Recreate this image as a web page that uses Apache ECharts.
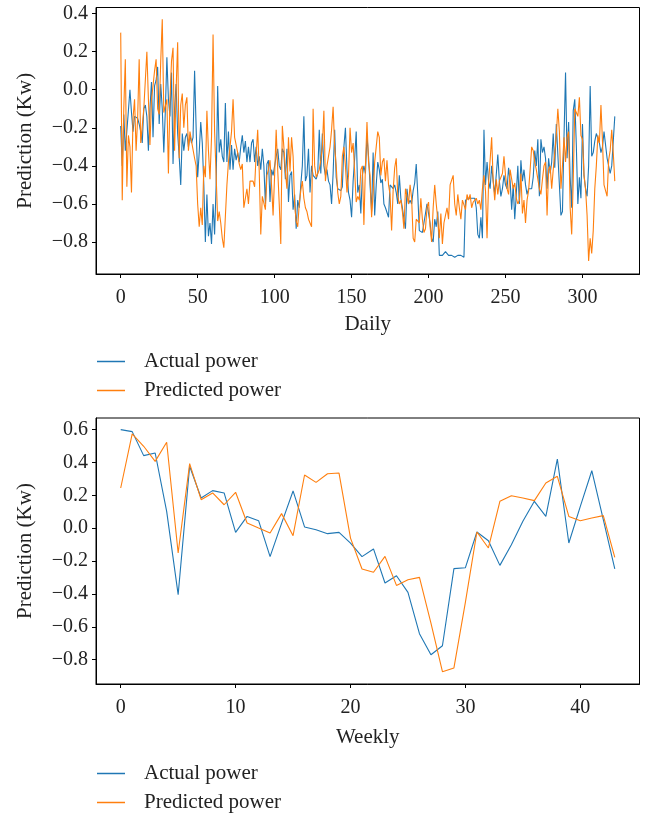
<!DOCTYPE html>
<html>
<head>
<meta charset="utf-8">
<style>
html,body{margin:0;padding:0;background:#fff;}
#chart{width:649px;height:814px;}
</style>
<script src="https://cdn.jsdelivr.net/npm/echarts@6/dist/echarts.min.js"></script>
</head>
<body>
<div id="chart"></div>
<script>
const dailyActual = [
-0.19,-0.40,-0.13,-0.32,-0.32,-0.11,0.00,-0.12,-0.22,-0.14,
-0.14,-0.15,-0.18,-0.22,-0.28,-0.10,-0.08,-0.14,-0.32,-0.10,
0.04,-0.25,0.02,0.05,0.12,-0.18,0.03,-0.10,-0.33,-0.11,
0.17,-0.05,-0.14,0.09,-0.39,-0.10,0.03,-0.23,-0.35,-0.50,
-0.23,-0.32,-0.25,-0.23,-0.30,-0.24,-0.28,-0.25,0.10,-0.20,
-0.46,-0.33,-0.17,-0.28,-0.50,-0.80,-0.55,-0.77,-0.70,-0.81,
-0.60,-0.76,-0.50,0.02,-0.33,-0.26,-0.35,-0.38,-0.07,-0.38,
-0.22,-0.42,-0.29,-0.42,-0.31,-0.37,-0.33,-0.38,-0.30,-0.24,
-0.33,-0.27,-0.38,-0.30,-0.38,-0.28,-0.26,-0.38,-0.30,-0.40,
-0.35,-0.42,-0.31,-0.40,-0.60,-0.39,-0.37,-0.59,-0.42,-0.45,
-0.45,-0.35,-0.31,-0.40,-0.42,-0.31,-0.33,-0.47,-0.31,-0.59,
-0.45,-0.43,-0.63,-0.55,-0.73,-0.58,-0.62,-0.50,-0.40,-0.14,
-0.48,-0.45,-0.31,-0.54,-0.40,-0.45,-0.44,-0.47,-0.44,-0.21,
-0.44,-0.23,-0.40,-0.45,-0.42,-0.48,-0.50,-0.60,-0.44,-0.21,
-0.46,-0.52,-0.51,-0.53,-0.51,-0.30,-0.20,-0.42,-0.54,-0.58,
-0.67,-0.48,-0.36,-0.22,-0.54,-0.50,-0.65,-0.45,-0.40,-0.44,
-0.24,-0.35,-0.50,-0.64,-0.33,-0.66,-0.50,-0.38,-0.42,-0.49,
-0.47,-0.60,-0.62,-0.63,-0.67,-0.50,-0.49,-0.52,-0.50,-0.54,
-0.60,-0.45,-0.57,-0.62,-0.68,-0.73,-0.52,-0.60,-0.58,-0.60,
-0.53,-0.49,-0.39,-0.55,-0.74,-0.75,-0.75,-0.74,-0.65,-0.60,
-0.59,-0.70,-0.78,-0.80,-0.68,-0.72,-0.64,-0.87,-0.87,-0.87,
-0.86,-0.85,-0.84,-0.87,-0.88,-0.87,-0.87,-0.88,-0.87,-0.87,
-0.88,-0.87,-0.87,-0.88,-0.58,-0.57,-0.57,-0.57,-0.57,-0.57,
-0.57,-0.62,-0.76,-0.78,-0.67,-0.78,-0.21,-0.50,-0.38,-0.48,
-0.52,-0.40,-0.48,-0.55,-0.56,-0.34,-0.48,-0.56,-0.52,-0.45,
-0.50,-0.52,-0.41,-0.48,-0.63,-0.50,-0.68,-0.55,-0.40,-0.60,
-0.37,-0.48,-0.42,-0.50,-0.55,-0.52,-0.53,-0.52,-0.46,-0.32,
-0.40,-0.26,-0.56,-0.26,-0.33,-0.30,-0.36,-0.52,-0.36,-0.44,
-0.38,-0.23,-0.41,-0.18,-0.19,-0.50,-0.66,-0.64,-0.25,0.09,
-0.36,-0.17,-0.46,-0.62,-0.11,-0.05,-0.29,-0.60,-0.46,-0.57,
-0.18,-0.45,-0.52,-0.56,-0.40,0.02,-0.35,-0.33,-0.27,-0.23,
-0.22,-0.28,-0.33,-0.30,-0.22,-0.21,-0.36,-0.37,-0.44,-0.40,
-0.40,-0.14
];
const dailyPredicted = [
0.30,-0.58,-0.10,0.16,-0.51,-0.24,-0.30,-0.54,-0.15,-0.05,
-0.32,-0.15,0.16,-0.28,-0.27,-0.10,0.05,0.20,-0.05,-0.29,
-0.05,0.02,0.10,0.16,-0.10,-0.13,0.15,0.37,-0.12,-0.13,
-0.05,-0.44,-0.05,0.15,0.22,-0.32,0.00,0.25,-0.36,-0.08,
-0.02,-0.20,-0.08,-0.04,-0.32,-0.22,-0.27,-0.26,-0.36,-0.40,
-0.60,-0.72,-0.62,-0.71,-0.40,-0.46,-0.11,-0.32,-0.47,-0.25,
0.29,-0.22,-0.45,-0.69,-0.64,-0.70,-0.78,-0.83,-0.83,-0.50,
-0.38,-0.38,-0.22,-0.05,-0.25,-0.29,-0.33,-0.39,-0.42,-0.39,
-0.62,-0.62,-0.52,-0.60,-0.48,-0.48,-0.48,-0.51,-0.34,-0.21,
-0.43,-0.76,-0.56,-0.57,-0.63,-0.45,-0.42,-0.37,-0.50,-0.66,
-0.45,-0.21,-0.42,-0.60,-0.81,-0.19,-0.30,-0.43,-0.52,-0.25,
-0.43,-0.25,-0.35,-0.60,-0.69,-0.72,-0.60,-0.53,-0.48,-0.57,
-0.62,-0.64,-0.68,-0.67,-0.72,-0.10,-0.40,-0.46,-0.44,-0.42,
-0.37,-0.30,-0.11,-0.48,-0.40,-0.35,-0.30,-0.21,-0.09,-0.30,
-0.40,-0.54,-0.60,-0.56,-0.35,-0.30,-0.40,-0.54,-0.45,-0.20,
-0.33,-0.28,-0.43,-0.59,-0.56,-0.58,-0.42,-0.40,-0.71,-0.40,
-0.17,-0.38,-0.45,-0.67,-0.54,-0.38,-0.30,-0.22,-0.25,-0.45,
-0.38,-0.36,-0.48,-0.37,-0.50,-0.55,-0.74,-0.53,-0.41,-0.36,
-0.56,-0.60,-0.58,-0.64,-0.73,-0.52,-0.53,-0.60,-0.50,-0.57,
-0.78,-0.80,-0.68,-0.67,-0.70,-0.57,-0.68,-0.75,-0.73,-0.62,
-0.59,-0.72,-0.80,-0.62,-0.50,-0.60,-0.68,-0.78,-0.65,-0.81,
-0.70,-0.66,-0.62,-0.68,-0.50,-0.49,-0.45,-0.60,-0.66,-0.55,
-0.62,-0.68,-0.58,-0.57,-0.63,-0.55,-0.58,-0.55,-0.62,-0.59,
-0.60,-0.57,-0.60,-0.58,-0.63,-0.52,-0.45,-0.53,-0.78,-0.49,
-0.50,-0.25,-0.48,-0.58,-0.47,-0.55,-0.48,-0.49,-0.44,-0.35,
-0.45,-0.52,-0.55,-0.42,-0.47,-0.52,-0.49,-0.57,-0.60,-0.58,
-0.44,-0.65,-0.58,-0.70,-0.58,-0.53,-0.42,-0.30,-0.32,-0.38,
-0.42,-0.47,-0.52,-0.55,-0.47,-0.40,-0.38,-0.66,-0.42,-0.40,
-0.52,-0.42,-0.41,-0.24,-0.10,-0.22,-0.52,-0.40,-0.25,-0.38,
-0.25,-0.22,-0.62,-0.76,-0.48,-0.10,-0.12,-0.14,-0.04,-0.24,
-0.26,-0.45,-0.52,-0.66,-0.90,-0.78,-0.86,-0.74,-0.52,-0.40,
-0.24,-0.28,-0.08,-0.27,-0.50,-0.53,-0.56,-0.37,-0.32,-0.21,
-0.33,-0.48
];
const weeklyActual = [
0.600,0.588,0.442,0.458,0.103,-0.404,0.377,0.184,0.229,0.215,
-0.025,0.072,0.046,-0.173,0.030,0.227,0.008,-0.009,-0.033,-0.025,
-0.090,-0.173,-0.126,-0.333,-0.289,-0.390,-0.642,-0.770,-0.715,-0.246,
-0.240,-0.023,-0.076,-0.226,-0.100,0.042,0.164,0.072,0.421,-0.090,
0.133,0.350,0.052,-0.248
];
const weeklyPredicted = [
0.245,0.574,0.499,0.407,0.523,-0.151,0.393,0.174,0.215,0.143,
0.219,0.032,0.001,-0.029,0.089,-0.045,0.324,0.279,0.332,0.336,
-0.060,-0.248,-0.268,-0.171,-0.348,-0.313,-0.299,-0.577,-0.873,-0.850,
-0.450,-0.023,-0.120,0.164,0.198,0.184,0.168,0.275,0.316,0.072,
0.046,0.062,0.077,-0.177
];
const dailyXTicks = [0, 50, 100, 150, 200, 250, 300];
const weeklyXTicks = [0, 10, 20, 30, 40];
const dailyYTicks = [-0.8, -0.6, -0.4, -0.2, 0.0, 0.2, 0.4];
const weeklyYTicks = [-0.8, -0.6, -0.4, -0.2, 0.0, 0.2, 0.4, 0.6];
const seriesNames = ['Actual power', 'Predicted power'];
const xNames = ['Daily', 'Weekly'];
const yName = 'Prediction (Kw)';

const BLUE = '#1f77b4', ORANGE = '#ff7f0e';
const FONT = 'Liberation Serif';
const FS = 20;

function pairs(arr){ return arr.map((v,i)=>[i,v]); }
function fmtY(v){ return v.toFixed(1).replace('-', '\u2212'); }
function pad(n){ return (n-1)*0.05; }

function xAxis(idx, n, ticks, name, gap){
  return {
    type:'value', gridIndex: idx, min: -pad(n), max: (n-1)+pad(n),
    name: name, nameLocation:'middle', nameGap: gap,
    nameTextStyle:{fontFamily:FONT, fontSize:FS+1, color:'#222'},
    axisLine:{show:true, onZero:false, lineStyle:{color:'#000', width:1}},
    axisTick:{show:true, inside:false, length:4, customValues: ticks, lineStyle:{color:'#000'}},
    axisLabel:{customValues: ticks, margin: 14, fontFamily:FONT, fontSize:FS, color:'#222',
      formatter: v => String(Math.round(v))},
    splitLine:{show:false}
  };
}
function yAxis(idx, mn, mx, ticks){
  return {
    type:'value', gridIndex: idx, min: mn, max: mx,
    name: yName, nameLocation:'middle', nameGap: 60,
    nameTextStyle:{fontFamily:FONT, fontSize:FS+1, color:'#222'},
    axisLine:{show:true, onZero:false, lineStyle:{color:'#000', width:1}},
    axisTick:{show:true, inside:false, length:4, customValues: ticks, lineStyle:{color:'#000'}},
    axisLabel:{customValues: ticks, margin: 8, fontFamily:FONT, fontSize:FS, color:'#222',
      formatter: v => fmtY(v)},
    splitLine:{show:false}
  };
}
function legend(top){
  return {
    orient:'vertical', left: 97, top: top, icon:'rect', padding: 0,
    itemWidth: 28, itemHeight: 1.5, itemGap: 8, height: 62,
    data: seriesNames,
    textStyle:{fontFamily:FONT, fontSize:FS+1, color:'#222', padding:[0,0,0,14], lineHeight:21}
  };
}
function line(name, data, idx, color){
  return {
    type:'line', name: name, data: pairs(data), xAxisIndex: idx, yAxisIndex: idx,
    showSymbol:false, symbol:'none', color: color,
    lineStyle:{width:1.1, color: color}, emphasis:{disabled:true}
  };
}

const chart = echarts.init(document.getElementById('chart'), null, {renderer:'canvas'});
chart.setOption({
  animation:false,
  backgroundColor:'#fff',
  grid:[
    {left:96, top:7.5, width:543.5, height:266.5, show:true, borderColor:'#000', borderWidth:1},
    {left:96, top:418, width:543.5, height:266, show:true, borderColor:'#000', borderWidth:1}
  ],
  xAxis:[ xAxis(0, dailyActual.length, dailyXTicks, xNames[0], 40), xAxis(1, weeklyActual.length, weeklyXTicks, xNames[1], 43) ],
  yAxis:[ yAxis(0, -0.968, 0.432, dailyYTicks), yAxis(1, -0.948, 0.671, weeklyYTicks) ],
  legend:[ legend(351), legend(763) ],
  series:[
    line(seriesNames[0], dailyActual, 0, BLUE),
    line(seriesNames[1], dailyPredicted, 0, ORANGE),
    line(seriesNames[0], weeklyActual, 1, BLUE),
    line(seriesNames[1], weeklyPredicted, 1, ORANGE)
  ]
});
</script>
</body>
</html>
